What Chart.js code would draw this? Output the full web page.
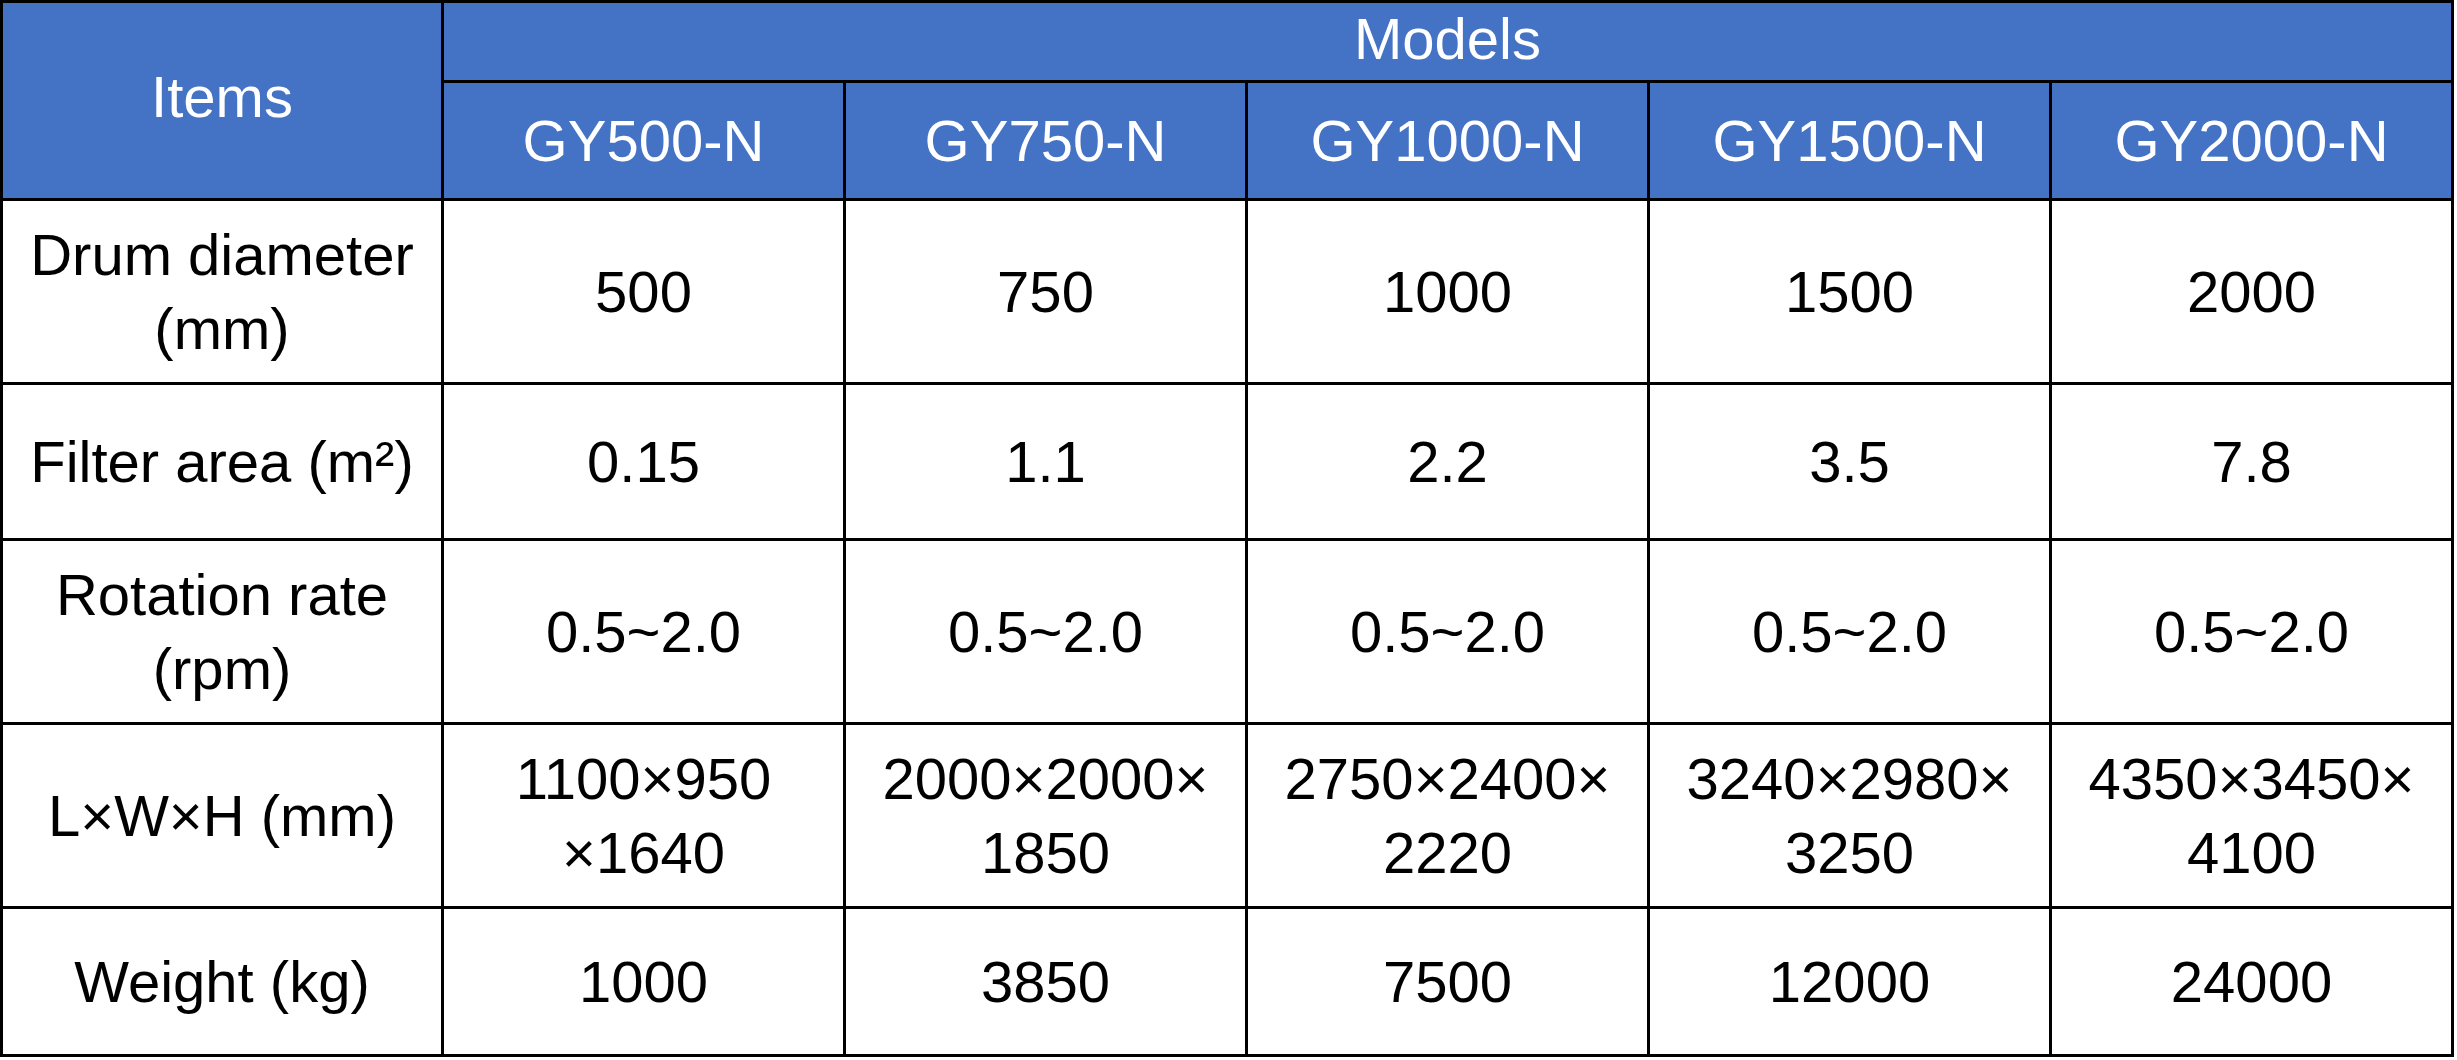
<!DOCTYPE html>
<html>
<head>
<meta charset="utf-8">
<script src="https://cdn.jsdelivr.net/npm/chart.js@4.4.1/dist/chart.umd.min.js"></script>
<style>
    html, body { margin: 0; padding: 0; background: #fff; }
    #specTable { display: block; }
</style>
</head>
<body>
<canvas id="specTable" width="2457" height="1060"></canvas>
<script>
// Table content
const headerItems = 'Items';
const headerModels = 'Models';
const models = ['GY500-N', 'GY750-N', 'GY1000-N', 'GY1500-N', 'GY2000-N'];
const items = ['Drum diameter\n(mm)', 'Filter area (m²)', 'Rotation rate\n(rpm)', 'L×W×H (mm)', 'Weight (kg)'];
const drumDiameter = [500, 750, 1000, 1500, 2000];
const filterArea = [0.15, 1.1, 2.2, 3.5, 7.8];
const rotationRate = ['0.5~2.0', '0.5~2.0', '0.5~2.0', '0.5~2.0', '0.5~2.0'];
const dimensions = ['1100×950\n×1640', '2000×2000×\n1850', '2750×2400×\n2220', '3240×2980×\n3250', '4350×3450×\n4100'];
const weight = [1000, 3850, 7500, 12000, 24000];

// Grid layout (scale units)
const colEdges = [1.5, 442.5, 844.5, 1246.5, 1648.5, 2050.5, 2452.5];
const rowEdges = [1.5, 81.5, 199.5, 383.5, 539.5, 723.5, 907.5, 1055.5];

const headerBlue = '#4472C4';
const fontSize = 58;
const lineGap = 74;

document.addEventListener('DOMContentLoaded', () => {
    const canvas = document.getElementById('specTable');
    if (!canvas) return;

    const bodyRows = [drumDiameter, filterArea, rotationRate, dimensions, weight];

    const tablePlugin = {
        id: 'specTable',
        beforeDraw(chart) {
            const ctx = chart.ctx;
            const xs = chart.scales.x;
            const ys = chart.scales.y;
            const px = v => xs.getPixelForValue(v);
            const py = v => ys.getPixelForValue(v);

            ctx.save();
            ctx.fillStyle = '#ffffff';
            ctx.fillRect(0, 0, chart.width, chart.height);

            // header background
            ctx.fillStyle = headerBlue;
            ctx.fillRect(px(colEdges[0]), py(rowEdges[0]), px(colEdges[6]) - px(colEdges[0]), py(rowEdges[2]) - py(rowEdges[0]));

            ctx.font = fontSize + 'px "Liberation Sans", Arial, sans-serif';
            ctx.textAlign = 'center';
            ctx.textBaseline = 'alphabetic';

            const cellText = (text, c0, c1, r0, r1, color, shift = 0) => {
                const lines = String(text).split('\n');
                const cx = (px(colEdges[c0]) + px(colEdges[c1])) / 2;
                const cy = (py(rowEdges[r0]) + py(rowEdges[r1])) / 2 + shift;
                ctx.fillStyle = color;
                lines.forEach((line, i) => {
                    const off = (i - (lines.length - 1) / 2) * lineGap;
                    ctx.fillText(line, cx, cy + fontSize * 0.36 + off);
                });
            };

            cellText(headerItems, 0, 1, 0, 2, '#ffffff', -4);
            cellText(headerModels, 1, 6, 0, 1, '#ffffff', -3);
            models.forEach((m, j) => cellText(m, j + 1, j + 2, 1, 2, '#ffffff'));

            items.forEach((label, i) => {
                cellText(label, 0, 1, i + 2, i + 3, '#000000');
                bodyRows[i].forEach((val, j) => cellText(val, j + 1, j + 2, i + 2, i + 3, '#000000'));
            });

            // grid lines
            ctx.strokeStyle = '#000000';
            ctx.lineWidth = 3;
            const hLine = (r, c0, c1) => {
                ctx.beginPath();
                ctx.moveTo(px(colEdges[c0]) - 1.5, py(rowEdges[r]));
                ctx.lineTo(px(colEdges[c1]) + 1.5, py(rowEdges[r]));
                ctx.stroke();
            };
            const vLine = (c, r0, r1) => {
                ctx.beginPath();
                ctx.moveTo(px(colEdges[c]), py(rowEdges[r0]) - 1.5);
                ctx.lineTo(px(colEdges[c]), py(rowEdges[r1]) + 1.5);
                ctx.stroke();
            };

            hLine(0, 0, 6);
            hLine(1, 1, 6);
            for (let r = 2; r < rowEdges.length; r++) hLine(r, 0, 6);
            vLine(0, 0, 7);
            vLine(1, 0, 7);
            for (let c = 2; c < 6; c++) vLine(c, 1, 7);
            vLine(6, 0, 7);

            ctx.restore();
        }
    };

    new Chart(canvas.getContext('2d'), {
        type: 'scatter',
        data: { datasets: [] },
        options: {
            responsive: false,
            animation: false,
            devicePixelRatio: 1,
            layout: { padding: 0 },
            plugins: {
                legend: { display: false },
                tooltip: { enabled: false }
            },
            scales: {
                x: { type: 'linear', min: 0, max: 2457, display: false },
                y: { type: 'linear', min: 0, max: 1060, reverse: true, display: false }
            }
        },
        plugins: [tablePlugin]
    });
});
</script>
</body>
</html>
